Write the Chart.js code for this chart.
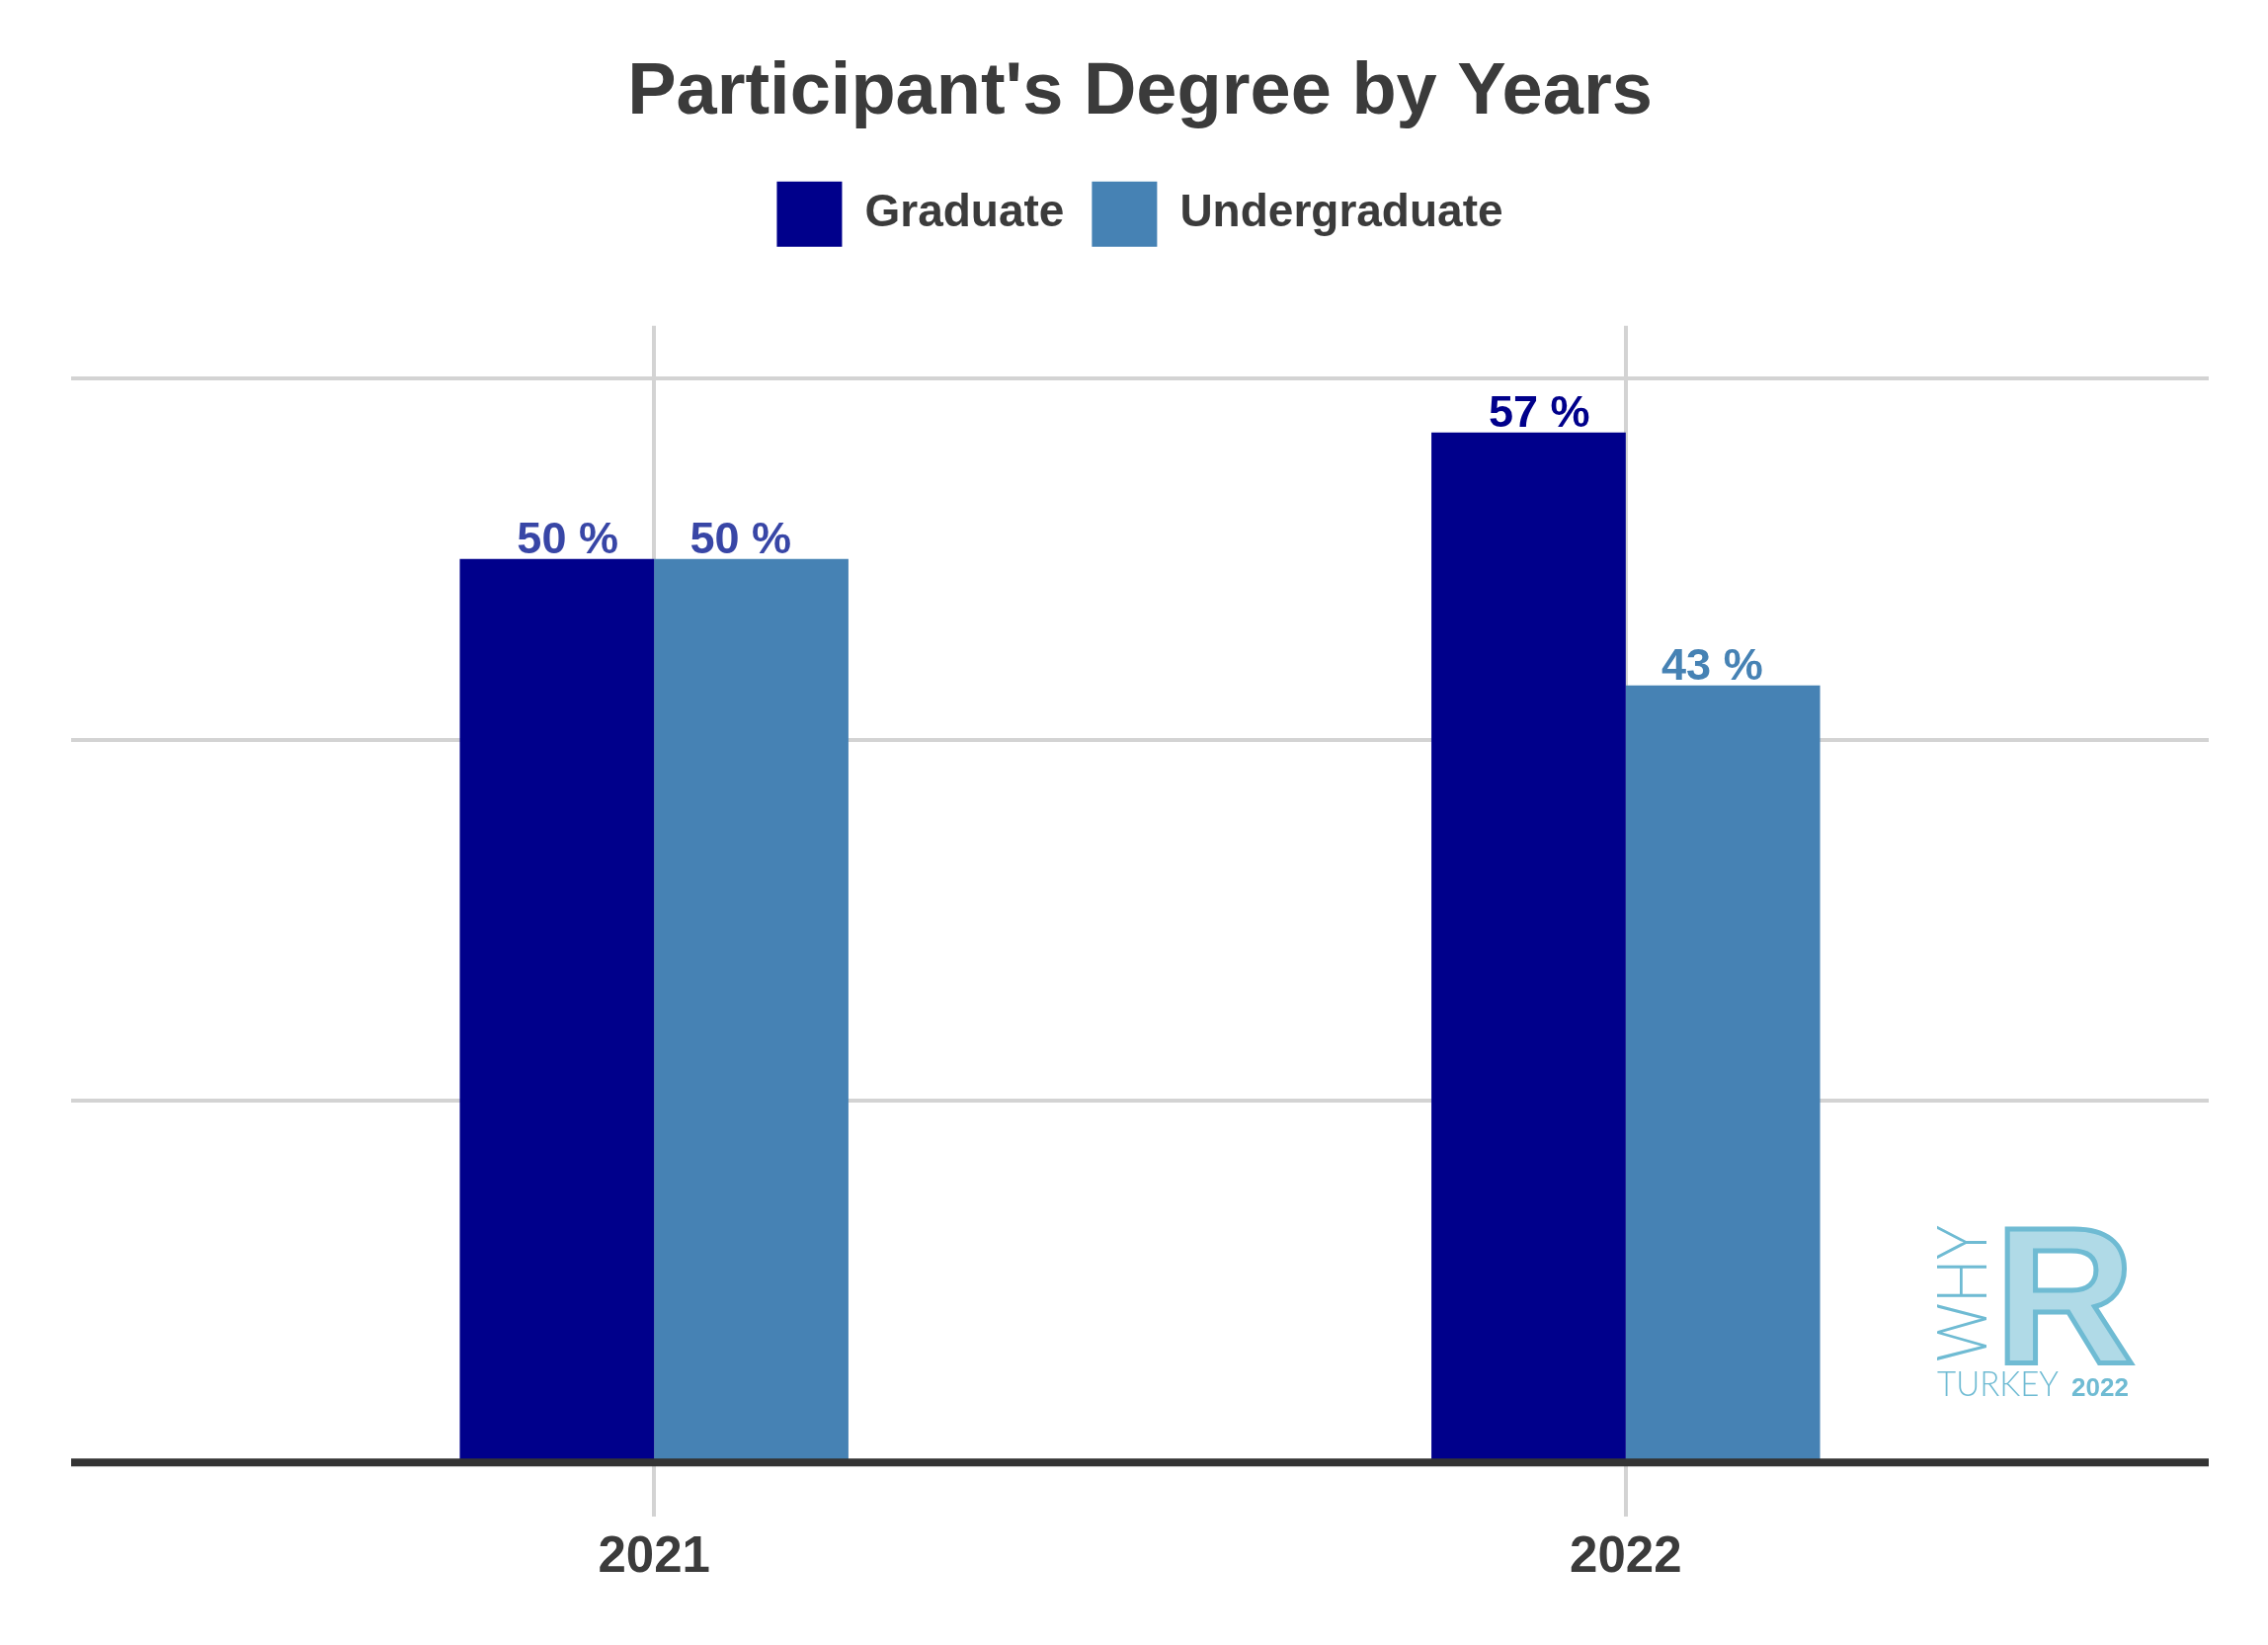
<!DOCTYPE html>
<html>
<head>
<meta charset="utf-8">
<title>Participant's Degree by Years</title>
<script src="https://cdn.jsdelivr.net/npm/chart.js@4"></script>
<style>
  html, body { margin: 0; padding: 0; background: #ffffff; }
  #chart-wrap { width: 2296px; height: 1665px; }
</style>
</head>
<body>
<div id="chart-wrap"><canvas id="degree-chart" width="2296" height="1665"></canvas></div>
<script>
// data
const years = ['2021', '2022'];
const graduate = [50, 57];
const undergraduate = [50, 43];
const graduateLabelColors = ['#3846a6', '#00008b'];
const undergradLabelColors = ['#3846a6', '#4682b4'];

const FONT = "'Liberation Sans', Arial, sans-serif";
const TEXT_GRAY = '#3b3b3b';
const GRID_GRAY = '#d3d3d3';

// bar value labels ("50 %"), slightly pulled in toward the year like the original
const valueLabels = {
  id: 'valueLabels',
  afterDatasetsDraw(chart) {
    const ctx = chart.ctx;
    const xScale = chart.scales.x;
    ctx.save();
    ctx.font = 'bold 45px ' + FONT;
    ctx.textAlign = 'center';
    ctx.textBaseline = 'alphabetic';
    chart.data.datasets.forEach((ds, i) => {
      const meta = chart.getDatasetMeta(i);
      meta.data.forEach((bar, j) => {
        const center = xScale.getPixelForValue(ds.data[j].x);
        const x = center + (bar.x - center) * 0.89;
        ctx.fillStyle = ds.labelColors[j];
        ctx.fillText(ds.data[j].y + ' %', x, bar.y - 6);
      });
    });
    ctx.restore();
  }
};

// thick baseline at zero, drawn over the bar bottoms
const zeroLine = {
  id: 'zeroLine',
  afterDatasetsDraw(chart) {
    const {ctx, chartArea} = chart;
    const y0 = chart.scales.y.getPixelForValue(0);
    ctx.save();
    ctx.strokeStyle = '#333333';
    ctx.lineWidth = 8;
    ctx.beginPath();
    ctx.moveTo(chartArea.left, y0);
    ctx.lineTo(chartArea.right, y0);
    ctx.stroke();
    ctx.restore();
  }
};

// "WHY R TURKEY 2022" watermark in the lower right corner
const logo = {
  id: 'logo',
  afterDraw(chart) {
    const {ctx, chartArea} = chart;
    const y0 = chart.scales.y.getPixelForValue(0);
    const lx = chartArea.right - 275;
    const ly = y0 - 240;
    const blue = '#6fbbd3';
    ctx.save();
    ctx.fillStyle = blue;
    ctx.strokeStyle = blue;
    ctx.textAlign = 'left';
    ctx.textBaseline = 'alphabetic';

    ctx.save();
    ctx.translate(lx + 50, ly + 138);
    ctx.rotate(-Math.PI / 2);
    ctx.font = '300 70px Lato, ' + FONT;
    ctx.fillText('WHY', 0, 0, 138);
    ctx.restore();

    ctx.font = 'bold 197px ' + FONT;
    ctx.globalAlpha = 0.55;
    ctx.fillText('R', lx + 58, ly + 139);
    ctx.globalAlpha = 1;
    ctx.lineWidth = 5;
    ctx.strokeText('R', lx + 58, ly + 139);

    ctx.font = '300 35px Lato, ' + FONT;
    ctx.fillText('TURKEY', lx, ly + 173, 123);
    ctx.font = 'bold 26px ' + FONT;
    ctx.fillText('2022', lx + 136, ly + 173, 71);
    ctx.restore();
  }
};

const ctx = document.getElementById('degree-chart').getContext('2d');

new Chart(ctx, {
  type: 'bar',
  data: {
    datasets: [
      {
        label: 'Graduate',
        data: years.map((y, i) => ({x: i + 1, y: graduate[i]})),
        backgroundColor: '#00008b',
        labelColors: graduateLabelColors
      },
      {
        label: 'Undergraduate',
        data: years.map((y, i) => ({x: i + 1, y: undergraduate[i]})),
        backgroundColor: '#4682b4',
        labelColors: undergradLabelColors
      }
    ]
  },
  options: {
    responsive: false,
    maintainAspectRatio: false,
    devicePixelRatio: 1,
    animation: false,
    categoryPercentage: 0.4,
    barPercentage: 1.0,
    layout: { padding: { left: 72, right: 60, top: 0, bottom: 0 } },
    scales: {
      x: {
        type: 'linear',
        min: 0.4,
        max: 2.6,
        offset: false,
        border: { display: false },
        grid: { color: GRID_GRAY, lineWidth: 4, drawTicks: false, offset: false },
        ticks: {
          stepSize: 1,
          includeBounds: false,
          padding: 11,
          color: TEXT_GRAY,
          font: { family: FONT, size: 51, weight: 'bold' },
          callback: (value) => years[value - 1]
        },
        afterFit: (scale) => { scale.height = 130; }
      },
      y: {
        min: -3,
        max: 62.9,
        border: { display: false },
        grid: { color: GRID_GRAY, lineWidth: 4, drawTicks: false },
        ticks: { display: false, stepSize: 20, includeBounds: false },
        afterFit: (scale) => { scale.width = 0; }
      }
    },
    plugins: {
      title: {
        display: true,
        text: "Participant's Degree by Years",
        color: TEXT_GRAY,
        font: { family: FONT, size: 74, weight: 'bold', lineHeight: 1.2 },
        padding: { top: 50, bottom: 17 }
      },
      legend: {
        display: true,
        position: 'top',
        labels: {
          boxWidth: 66,
          boxHeight: 66,
          padding: 28,
          color: TEXT_GRAY,
          font: { family: FONT, size: 46, weight: 'bold' }
        }
      },
      // empty spacer between the legend and the plot
      subtitle: {
        display: true,
        text: '',
        weight: 500,
        font: { size: 10, lineHeight: 1 },
        padding: { top: 60, bottom: 0 }
      },
      tooltip: { enabled: false }
    }
  },
  plugins: [valueLabels, zeroLine, logo]
});
</script>
</body>
</html>
